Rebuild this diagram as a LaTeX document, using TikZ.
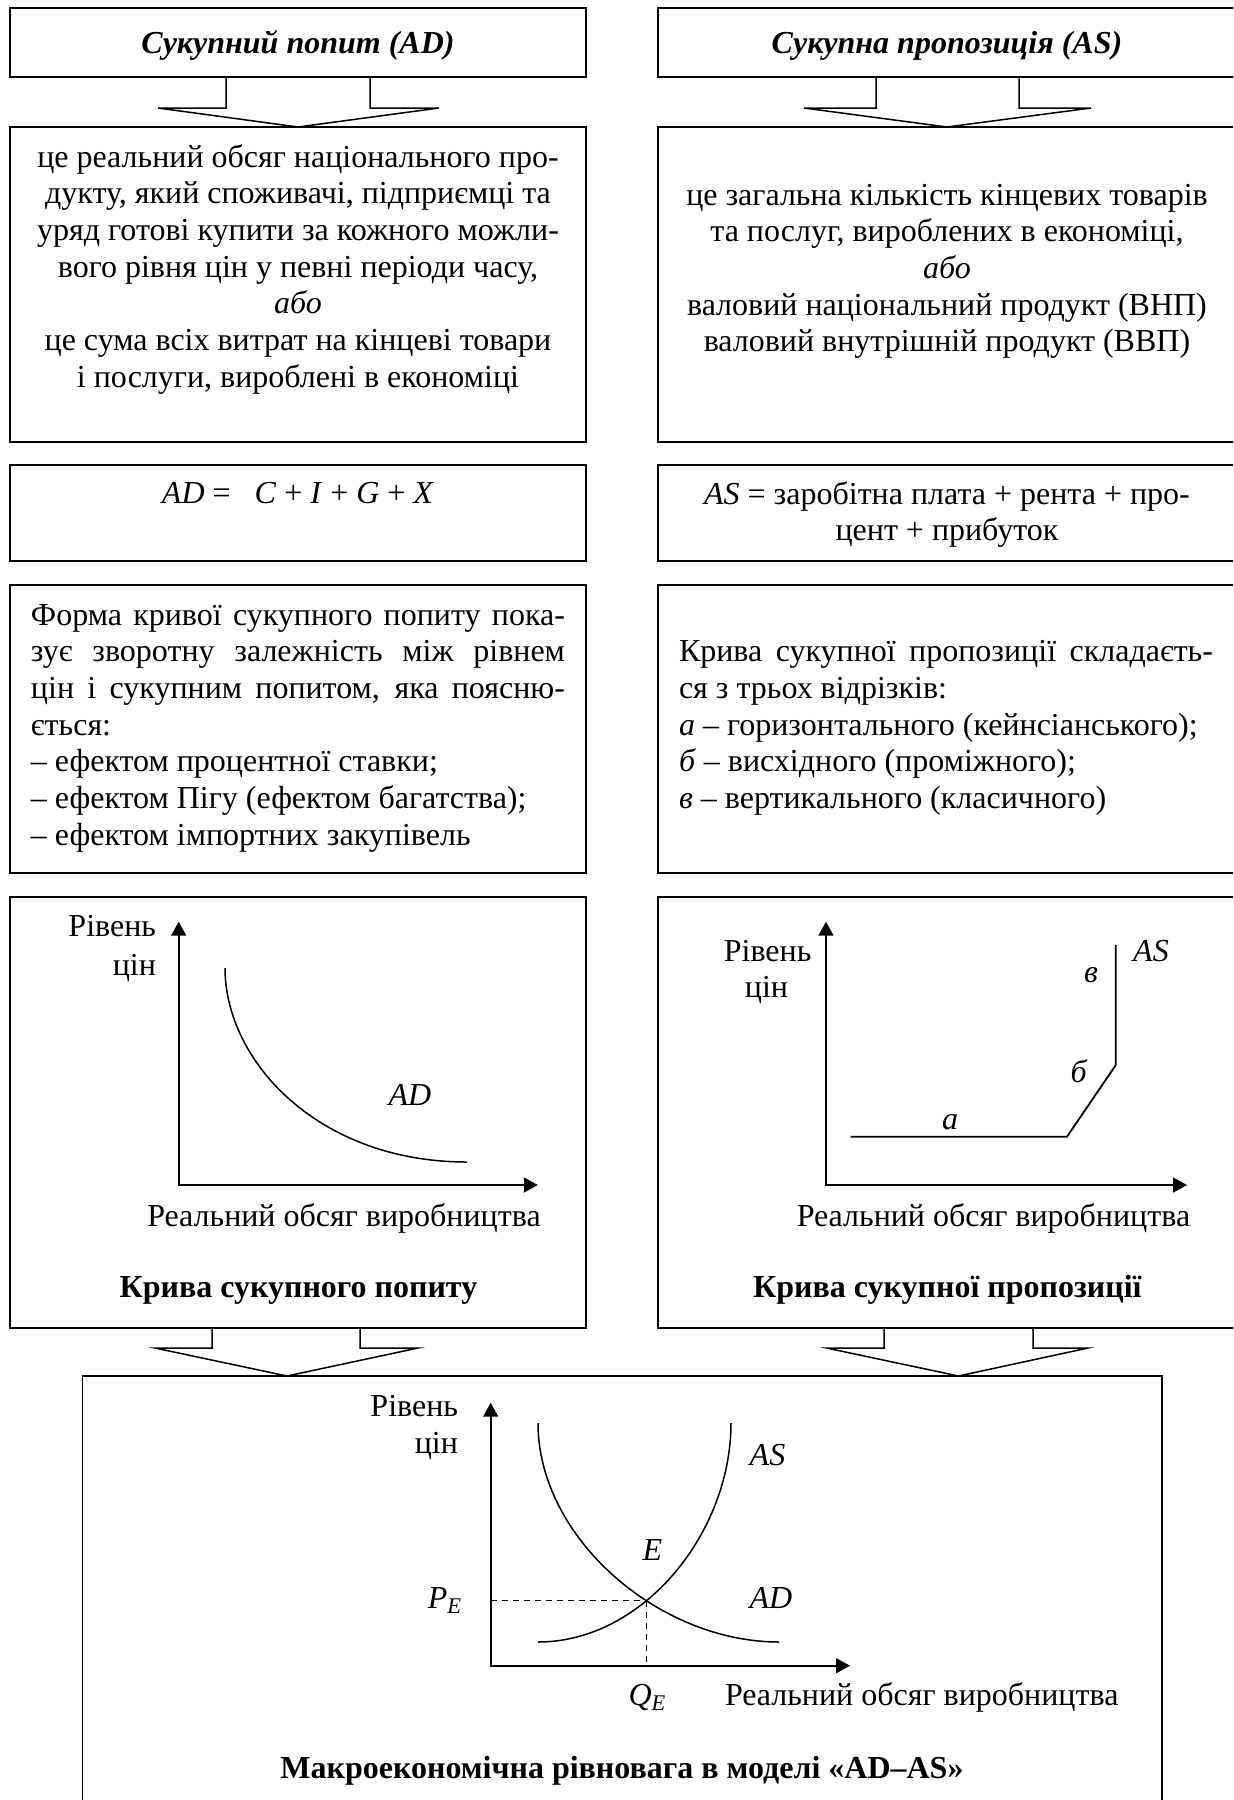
\documentclass[tikz,border=0pt]{standalone}
\usepackage{fontspec}
\setmainfont{Liberation Serif}
\usetikzlibrary{arrows.meta,calc,fit,intersections}
\begin{document}
\begin{tikzpicture}[x=0.5pt,y=-0.5pt,
  box/.style={draw, line width=0.9pt, inner sep=0pt, outer sep=0pt},
  barr/.style={draw, line width=0.75pt, line join=miter},
  txt/.style={font=\fontsize{16}{18.35}\selectfont, inner sep=0pt, outer sep=0pt},
  ctext/.style={txt, text width=280pt, align=flush center},
  jtext/.style={txt, text width=267pt, align=justify},
  axis/.style={line width=0.9pt, {Triangle[length=7pt,width=7.5pt]}-{Triangle[length=7pt,width=7.5pt]}},
  curve/.style={line width=0.75pt},
  dsh/.style={line width=0.7pt, dash pattern=on 3pt off 2.5pt}]
\path[use as bounding box] (0,0) rectangle (1233,1800);
\clip (0,0) rectangle (1233,1800);

% ---------- boxes ----------
\node[box, fit={(10,8) (586,77)}] (t1) {};
\node[box, fit={(658,8) (1236,77)}] (t2) {};
\node[box, fit={(10,127) (586,442)}] (d1) {};
\node[box, fit={(658,127) (1236,442)}] (d2) {};
\node[box, fit={(10,465) (586,561)}] (f1) {};
\node[box, fit={(658,465) (1236,561)}] (f2) {};
\node[box, fit={(10,585) (586,873)}] (e1) {};
\node[box, fit={(658,585) (1236,873)}] (e2) {};
\node[box, fit={(10,897) (586,1328)}] (g1) {};
\node[box, fit={(658,897) (1236,1328)}] (g2) {};
\node[box, fit={(82.5,1376) (1161.7,1812)}] (m) {};
\coordinate (mL) at (287,1376);
\coordinate (mR) at (958.5,1376);

% ---------- block arrows ----------
\draw[barr] ($(t1.south)+(-72,0)$) -- ++(0,31) -- ++(-68,0) -- (d1.north)
  -- ($(t1.south)+(141,31)$) -- ++(-69,0) -- ++(0,-31);
\draw[barr] ($(t2.south)+(-71,0)$) -- ++(0,31) -- ++(-72,0) -- (d2.north)
  -- ($(t2.south)+(144,31)$) -- ++(-72,0) -- ++(0,-31);
\draw[barr] ($(g1.south)+(-86,0)$) -- ++(0,20) -- ++(-57,0) -- (mL)
  -- ($(g1.south)+(120,20)$) -- ++(-58,0) -- ++(0,-20);
\draw[barr] ($(g2.south)+(-63,0)$) -- ++(0,20) -- ++(-57.5,0) -- (mR)
  -- ($(g2.south)+(141,20)$) -- ++(-55,0) -- ++(0,-20);

% ---------- titles ----------
\node[txt, anchor=base] (t1x) at (298,53.3) {\textbf{\textit{Сукупний попит (AD)}}};
\node[txt, anchor=base] (t2x) at (947,53.3) {\textbf{\textit{Сукупна пропозиція (AS)}}};

% ---------- definitions ----------
\node[ctext, anchor=base] (d1x) at (298,167) {це реальний обсяг національного про-\\
дукту, який споживачі, підприємці та\\
уряд готові купити за кожного можли-\\
вого рівня цін у певні періоди часу,\\
\textit{або}\\
це сума всіх витрат на кінцеві товари\\
і послуги, вироблені в економіці};
\node[ctext, anchor=base] (d2x) at (947,205) {це загальна кількість кінцевих товарів\\
та послуг, вироблених в економіці,\\
\textit{або}\\
валовий національний продукт (ВНП)\\
валовий внутрішній продукт (ВВП)};

% ---------- formulas ----------
\node[txt, anchor=base] (f1x) at (298,503) {\textit{AD} =~~~\textit{C} + \textit{I} + \textit{G} + \textit{X}};
\node[ctext, anchor=base] (f2x) at (947,504) {\textit{AS} = заробітна плата + рента + про-\\цент + прибуток};

% ---------- explanations ----------
\node[jtext, anchor=base] (e1x) at (298,625) {Форма кривої сукупного попиту пока-\linebreak
зує зворотну залежність між рівнем\linebreak
цін і сукупним попитом, яка поясню-\linebreak
ється:\newline
– ефектом процентної ставки;\newline
– ефектом Пігу (ефектом багатства);\newline
– ефектом імпортних закупівель};
\node[jtext, anchor=base] (e2x) at (946,661.7) {Крива сукупної пропозиції складаєть-\linebreak
ся з трьох відрізків:\newline
\textit{а} – горизонтального (кейнсіанського);\newline
\textit{б} – висхідного (проміжного);\newline
\textit{в} – вертикального (класичного)};

% ---------- AD graph ----------
\coordinate (o1) at (178.7,1185);
\coordinate (y1) at (178.7,921.7);
\coordinate (x1) at (537.8,1185);
\draw[axis] (y1) -- (o1) -- (x1);
\draw[curve] (225,968) .. controls (225,1061) and (318,1162) .. (467,1162);
\node[txt, anchor=base east] (l1a) at (156,936.7) {Рівень};
\node[txt, anchor=base east] (l1b) at (156,975) {цін};
\node[txt, anchor=base] (l1c) at (410,1105) {\textit{AD}};
\node[txt, anchor=base] (l1d) at (344,1226) {Реальний обсяг виробництва};
\node[txt, anchor=base] (l1e) at (298.5,1297) {\textbf{Крива сукупного попиту}};

% ---------- AS graph ----------
\coordinate (o2) at (826,1185);
\coordinate (y2) at (826,921.7);
\coordinate (x2) at (1187,1185);
\draw[axis] (y2) -- (o2) -- (x2);
\draw[curve, line width=0.9pt] (850.7,1136.7) -- (1067,1136.7) -- (1115.8,1065) -- (1115.8,945);
\node[txt, anchor=base] (l2a) at (767.6,961) {Рівень};
\node[txt, anchor=base] (l2b) at (766.5,997) {цін};
\node[txt, anchor=base] (l2c) at (1151,961) {\textit{AS}};
\node[txt, anchor=base] (l2d) at (1091,982) {\textit{в}};
\node[txt, anchor=base] (l2e) at (1079,1082) {\textit{б}};
\node[txt, anchor=base] (l2f) at (950,1129) {\textit{а}};
\node[txt, anchor=base] (l2g) at (993.5,1226) {Реальний обсяг виробництва};
\node[txt, anchor=base] (l2h) at (947.5,1297) {\textbf{Крива сукупної пропозиції}};

% ---------- AD-AS graph ----------
\coordinate (o3) at (490.7,1665.7);
\coordinate (y3) at (490.7,1402.7);
\coordinate (x3) at (850,1665.7);
\draw[axis] (y3) -- (o3) -- (x3);
\draw[curve, name path=adB] (538,1423) .. controls (538,1538) and (659,1642) .. (779,1642);
\draw[curve, name path=asB] (538,1642) .. controls (643,1642) and (731,1533) .. (731,1423);
\path[name intersections={of=adB and asB, by=E}];
\draw[dsh] (E -| o3) -- (E);
\draw[dsh] (E) -- (E |- o3);
\node[txt, anchor=base east] (l3a) at (458,1416.7) {Рівень};
\node[txt, anchor=base east] (l3b) at (458,1453.3) {цін};
\node[txt, anchor=base] (l3c) at (767.5,1465) {\textit{AS}};
\node[txt, anchor=base] (l3d) at (652.5,1560) {\textit{E}};
\node[txt, anchor=base] (l3e) at (771,1608.3) {\textit{AD}};
\node[txt, anchor=base] (l3f) at (445,1608.3) {\textit{P}\textsubscript{\textit{E}}};
\node[txt, anchor=base] (l3g) at (647.5,1705) {\textit{Q}\textsubscript{\textit{E}}};
\node[txt, anchor=base west] (l3h) at (725,1705) {Реальний обсяг виробництва};
\node[txt, anchor=base] (l3i) at (622,1778) {\textbf{Макроекономічна рівновага в моделі «AD–AS»}};
\end{tikzpicture}
\end{document}
